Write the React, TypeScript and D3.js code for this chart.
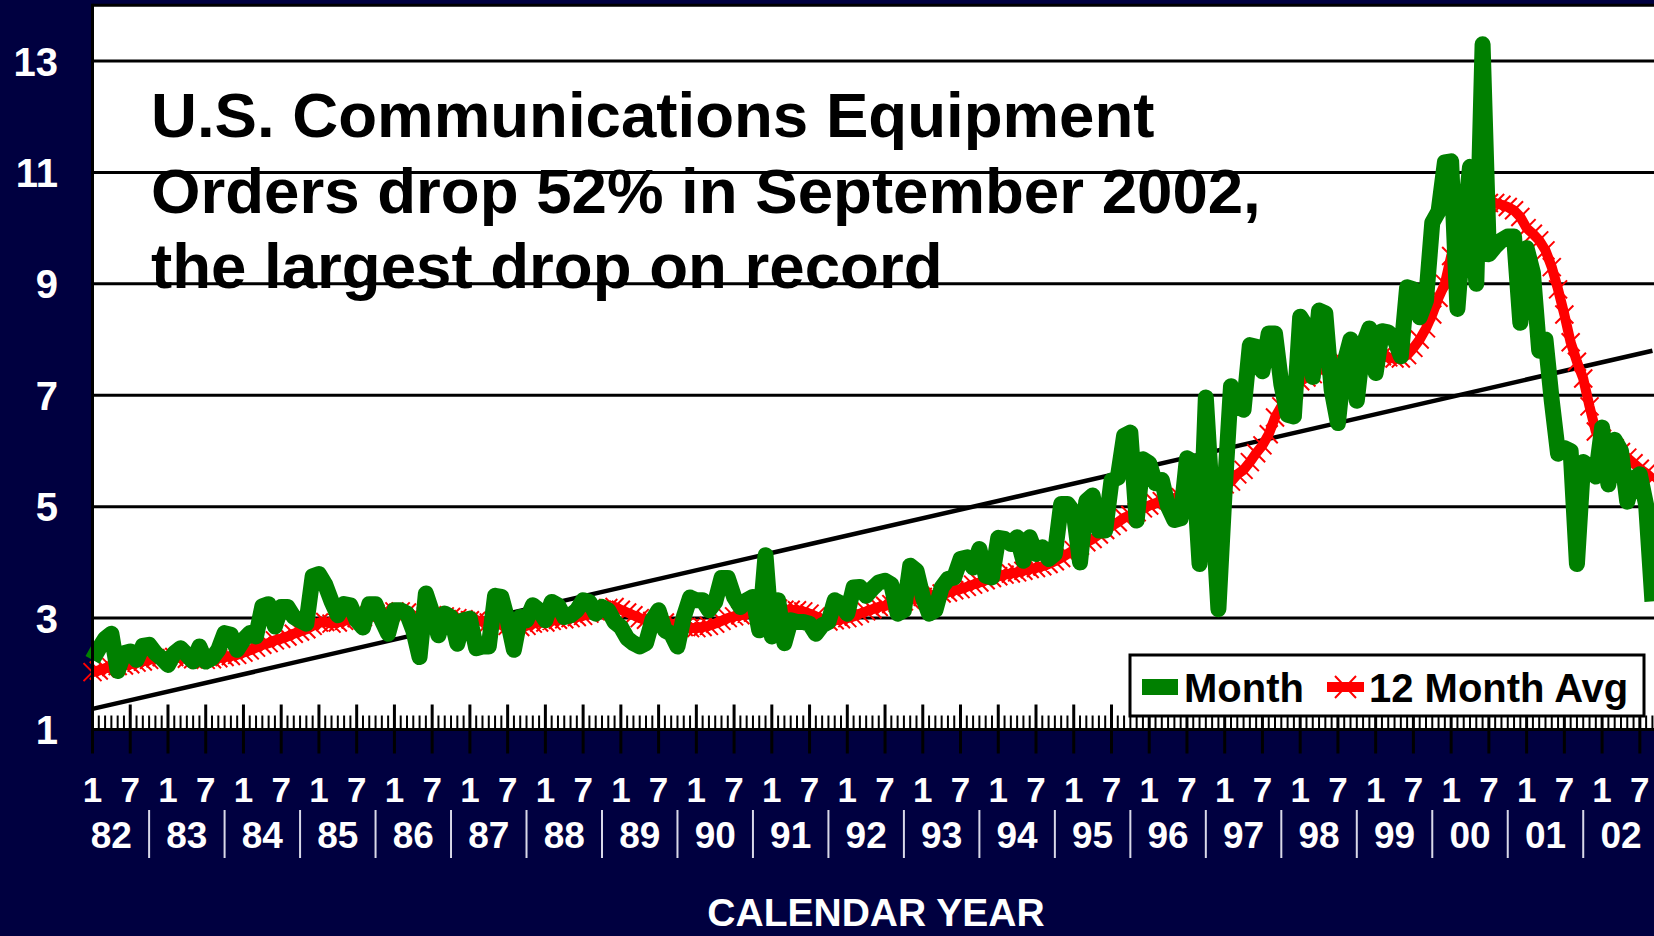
import React from 'react';
import * as d3 from 'd3';

const W = 1654;
const H = 936;

// Monthly orders, Jan 1982 .. Sep 2002 (billions $)
const monthValues: number[] = [
  // 1982
  2.25, 2.45, 2.63, 2.72, 2.05, 2.37, 2.4, 2.25, 2.5, 2.52, 2.37, 2.28,
  // 1983
  2.16, 2.37, 2.46, 2.34, 2.22, 2.49, 2.22, 2.28, 2.43, 2.73, 2.7, 2.43,
  // 1984
  2.61, 2.73, 2.67, 3.21, 3.25, 2.85, 3.2, 3.2, 3.02, 2.96, 2.9, 3.75,
  // 1985
  3.79, 3.6, 3.3, 3.05, 3.25, 3.23, 2.96, 2.83, 3.25, 3.25, 2.96, 2.72,
  // 1986
  3.14, 3.14, 3.08, 2.78, 2.3, 3.44, 3.1, 2.69, 3.08, 3.02, 2.54, 2.96,
  // 1987
  2.99, 2.46, 2.49, 2.49, 3.4, 3.38, 2.96, 2.43, 3.02, 2.96, 3.23, 3.14,
  // 1988
  2.96, 3.29, 3.23, 3.02, 3.05, 3.14, 3.32, 3.29, 3.08, 3.2, 3.14, 2.93,
  // 1989
  2.84, 2.64, 2.55, 2.49, 2.55, 2.96, 3.14, 2.78, 2.72, 2.49, 3.02, 3.37,
  // 1990
  3.32, 3.32, 3.14, 3.29, 3.72, 3.72, 3.38, 3.2, 3.32, 3.38, 2.78, 4.13,
  // 1991
  2.67, 3.32, 2.55, 2.96, 2.93, 2.93, 2.9, 2.72, 2.87, 2.93, 3.32, 3.26,
  // 1992
  3.08, 3.55, 3.56, 3.4, 3.53, 3.64, 3.67, 3.6, 3.08, 3.14, 3.94, 3.85,
  // 1993
  3.38, 3.08, 3.14, 3.55, 3.7, 3.73, 4.06, 4.09, 3.91, 4.24, 3.76, 3.73,
  // 1994
  4.44, 4.42, 4.33, 4.45, 4.03, 4.45, 4.15, 4.27, 4.06, 4.15, 5.05, 5.05,
  // 1995
  4.9, 4.0, 5.1, 5.2, 4.57, 4.57, 5.47, 5.52, 6.27, 6.33, 4.75, 5.85,
  // 1996
  5.78, 5.42, 5.48, 5.0, 4.76, 4.79, 5.87, 5.8, 3.97, 6.96, 5.1, 3.16,
  // 1997
  5.3, 7.16, 6.8, 6.74, 7.9, 7.87, 7.43, 8.11, 8.11, 7.2, 6.65, 6.62,
  // 1998
  8.41, 8.23, 7.33, 8.52, 8.47, 7.1, 6.5, 7.57, 8.0, 6.9, 7.9, 8.2,
  // 1999
  7.4, 8.15, 8.13, 8.0, 7.7, 8.94, 8.9, 8.4, 8.7, 10.1, 10.3, 11.18,
  // 2000
  11.2, 8.55, 10.0, 11.1, 9.0, 13.3, 9.53, 9.67, 9.78, 9.85, 9.85, 8.3,
  // 2001
  9.64, 9.2, 7.8, 8.0, 6.9, 5.95, 6.05, 6.0, 3.97, 5.8, 5.72, 5.54,
  // 2002
  6.42, 5.4, 6.2, 6.0, 5.09, 5.5, 5.58, 5.03, 3.3,
];

// 12 month average, Jan 1982 .. Sep 2002
const avgValues: number[] = [
  // 1982
  2.03, 2.06, 2.1, 2.12, 2.14, 2.15, 2.17, 2.2, 2.22, 2.25, 2.28, 2.3,
  // 1983
  2.32, 2.3, 2.28, 2.27, 2.26, 2.25, 2.25, 2.26, 2.28, 2.3, 2.32, 2.34,
  // 1984
  2.38, 2.42, 2.47, 2.52, 2.55, 2.6, 2.63, 2.67, 2.72, 2.76, 2.8, 2.86,
  // 1985
  2.92, 2.93, 2.9, 2.92, 2.95, 2.98, 3.0, 3.02, 3.05, 3.08, 3.1, 3.1,
  // 1986
  3.12, 3.12, 3.1, 3.05, 3.02, 3.03, 3.05, 3.04, 3.03, 3.02, 3.0, 2.98,
  // 1987
  2.96, 2.95, 2.95, 2.92, 2.9, 2.88, 2.86, 2.84, 2.84, 2.86, 2.9, 2.92,
  // 1988
  2.92, 2.95, 2.97, 2.98, 3.0, 3.02, 3.04, 3.08, 3.12, 3.15, 3.18, 3.2,
  // 1989
  3.15, 3.1, 3.05, 3.0, 2.97, 2.95, 2.93, 2.92, 2.9, 2.86, 2.84, 2.82,
  // 1990
  2.82, 2.84, 2.86, 2.9, 2.95, 3.0, 3.03, 3.05, 3.08, 3.1, 3.1, 3.15,
  // 1991
  3.15, 3.17, 3.15, 3.15, 3.14, 3.12, 3.08, 3.03, 2.98, 2.94, 2.96, 2.98,
  // 1992
  3.0, 3.03, 3.08, 3.12, 3.16, 3.2, 3.22, 3.25, 3.27, 3.3, 3.33, 3.36,
  // 1993
  3.38, 3.4, 3.42, 3.44, 3.46, 3.5, 3.52, 3.56, 3.6, 3.64, 3.68, 3.72,
  // 1994
  3.75, 3.78, 3.8, 3.82, 3.85, 3.88, 3.9, 3.93, 3.97, 4.02, 4.08, 4.15,
  // 1995
  4.22, 4.3, 4.36, 4.42, 4.5, 4.58, 4.65, 4.72, 4.8, 4.85, 4.9, 4.97,
  // 1996
  5.02, 5.06, 5.1, 5.12, 5.15, 5.17, 5.2, 5.22, 5.24, 5.28, 5.32, 5.35,
  // 1997
  5.4, 5.45, 5.58, 5.66, 5.8, 5.96, 6.1, 6.3, 6.6, 6.8, 6.95, 7.1,
  // 1998
  7.25, 7.32, 7.38, 7.45, 7.55, 7.58, 7.6, 7.58, 7.6, 7.62, 7.63, 7.65,
  // 1999
  7.68, 7.7, 7.68, 7.66, 7.66, 7.72, 7.85, 8.0, 8.2, 8.45, 8.75, 9.0,
  // 2000
  9.5, 9.8, 10.0, 10.2, 10.35, 10.42, 10.45, 10.45, 10.42, 10.38, 10.32, 10.2,
  // 2001
  10.0, 9.9, 9.78, 9.6, 9.3, 8.9, 8.45, 7.95, 7.6, 7.3, 6.8, 6.35,
  // 2002
  6.22, 6.12, 6.05, 5.98, 5.88, 5.78, 5.68, 5.6, 5.5,
];

// Linear trend line: value at first and last month
const trendEnds: number[] = [1.37, 7.8];

const yTickValues: number[] = [1, 3, 5, 7, 9, 11, 13];
const gridValues: number[] = [3, 5, 7, 9, 11, 13];
const yearLabels: string[] = [
  '82', '83', '84', '85', '86', '87', '88', '89', '90', '91', '92',
  '93', '94', '95', '96', '97', '98', '99', '00', '01', '02',
];
const halfYearLabels: string[] = ['1', '7'];
const titleLines: string[] = [
  'U.S. Communications Equipment',
  'Orders drop 52% in September 2002,',
  'the largest drop on record',
];
const legendLabels: string[] = ['Month', '12 Month Avg'];
const axisTitle = 'CALENDAR YEAR';

const NAVY = '#000040';
const GREEN = '#008000';
const RED = '#FF0000';
const FONT = '"Liberation Sans", Arial, Helvetica, sans-serif';

export default function App() {
  const lastIdx = monthValues.length - 1;
  const x = d3.scaleLinear().domain([0, 248]).range([92.5, 92.5 + 6.29 * 248]);
  const y = d3.scaleLinear().domain([1, 14]).range([729.5, 5.3]);

  const line = d3
    .line<number>()
    .x((_, i) => x(i))
    .y((d) => y(d));

  const plotLeft = x(0);
  const plotTop = y(14);
  const axisY = y(1);

  const monthIdx = d3.range(0, 250);
  const halfIdx = d3.range(0, 250, 6);
  const markerSize = 9;

  const markerPath = avgValues
    .map((v, i) => {
      const cx = x(i);
      const cy = y(v);
      const s = markerSize;
      return `M${cx - s},${cy - s}L${cx + s},${cy + s}M${cx - s},${cy + s}L${cx + s},${cy - s}`;
    })
    .join('');

  const legX = 1130;
  const legY = 655;
  const legW = 514;
  const legH = 61;

  return (
    <svg
      width={W}
      height={H}
      viewBox={`0 0 ${W} ${H}`}
      style={{ position: 'absolute', left: 0, top: 0, display: 'block' }}
      fontFamily={FONT}
    >
      <rect x={0} y={0} width={W} height={H} fill={NAVY} />
      {/* plot area */}
      <rect x={plotLeft} y={plotTop} width={W - plotLeft + 10} height={axisY - plotTop} fill="#ffffff" />

      {/* gridlines */}
      {gridValues.map((v) => (
        <line key={`g${v}`} x1={plotLeft} x2={W} y1={y(v)} y2={y(v)} stroke="#000" strokeWidth={3} />
      ))}
      {/* top border */}
      <line x1={plotLeft} x2={W} y1={plotTop} y2={plotTop} stroke="#000" strokeWidth={3} />

      {/* title */}
      <g fontSize={63.6} fontWeight="bold" fill="#000">
        {titleLines.map((t, i) => (
          <text key={t} x={151} y={137 + i * 75.5}>
            {t}
          </text>
        ))}
      </g>

      {/* trend line */}
      <line
        x1={x(0)}
        y1={y(trendEnds[0])}
        x2={x(lastIdx)}
        y2={y(trendEnds[1])}
        stroke="#000"
        strokeWidth={4.5}
      />

      {/* 12 month avg */}
      <path d={line(avgValues) || ''} fill="none" stroke={RED} strokeWidth={10} strokeLinejoin="round" />
      <path d={markerPath} fill="none" stroke={RED} strokeWidth={2} />

      {/* monthly */}
      <path
        d={line(monthValues) || ''}
        fill="none"
        stroke={GREEN}
        strokeWidth={16}
        strokeLinejoin="round"
        strokeLinecap="butt"
      />

      {/* axes */}
      <line x1={plotLeft} x2={plotLeft} y1={plotTop - 1.5} y2={axisY} stroke="#000" strokeWidth={3} />
      <line x1={plotLeft} x2={W} y1={axisY} y2={axisY} stroke="#000" strokeWidth={3} />
      {monthIdx.map((i) => {
        const major = i % 6 === 0;
        return (
          <line
            key={`t${i}`}
            x1={x(i)}
            x2={x(i)}
            y1={axisY - (major ? 25 : 14)}
            y2={major ? axisY + 24 : axisY}
            stroke="#000"
            strokeWidth={major ? 3 : 2}
          />
        );
      })}

      {/* legend */}
      <rect x={legX} y={legY} width={legW} height={legH} fill="#fff" stroke="#000" strokeWidth={3} />
      <rect x={1142} y={679} width={36} height={16} fill={GREEN} />
      <text x={1184} y={702} fontSize={40} fontWeight="bold" fill="#000">
        {legendLabels[0]}
      </text>
      <line x1={1327} x2={1364} y1={687} y2={687} stroke={RED} strokeWidth={10} />
      <path d="M1335,676L1356,698M1335,698L1356,676" stroke={RED} strokeWidth={2} fill="none" />
      <text x={1369} y={702} fontSize={40} fontWeight="bold" fill="#000">
        {legendLabels[1]}
      </text>

      {/* y tick labels */}
      <g fontSize={40} fontWeight="bold" fill="#fff" textAnchor="end">
        {yTickValues.map((v) => (
          <text key={`y${v}`} x={58} y={y(v) + 14.5}>
            {v}
          </text>
        ))}
      </g>

      {/* x tick labels */}
      <g fontSize={35} fontWeight="bold" fill="#fff" textAnchor="middle">
        {halfIdx
          .filter((i) => i <= 246)
          .map((i) => (
            <text key={`h${i}`} x={x(i)} y={802}>
              {halfYearLabels[(i / 6) % 2]}
            </text>
          ))}
      </g>
      <g fontSize={37} fontWeight="bold" fill="#fff" textAnchor="middle">
        {yearLabels.map((lab, k) => (
          <text key={`yr${lab}`} x={x(k * 12 + 3)} y={848}>
            {lab}
          </text>
        ))}
      </g>
      {yearLabels.slice(0, -1).map((lab, k) => (
        <line
          key={`s${lab}`}
          x1={x(k * 12 + 9)}
          x2={x(k * 12 + 9)}
          y1={810}
          y2={858}
          stroke="#d8d8e8"
          strokeWidth={2}
        />
      ))}

      <text x={876} y={926} fontSize={39} fontWeight="bold" fill="#fff" textAnchor="middle">
        {axisTitle}
      </text>
    </svg>
  );
}
